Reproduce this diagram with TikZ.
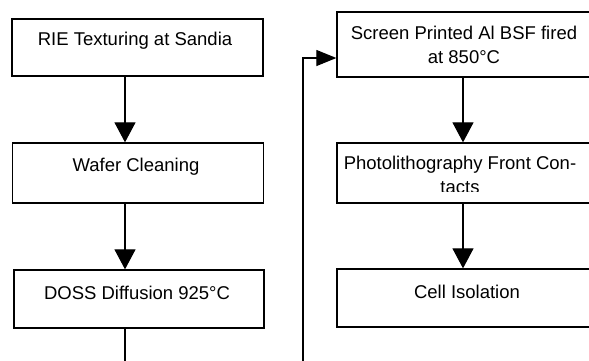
\documentclass[tikz,border=0pt]{standalone}
\usepackage{fontspec}
\setmainfont{Liberation Sans}
\usetikzlibrary{arrows.meta}
\begin{document}
\begin{tikzpicture}[x=1pt,y=-1pt,
  box/.style={draw,line width=1.3pt,rectangle,inner sep=0pt},
  txt/.style={font=\fontsize{18.5}{24}\selectfont,inner sep=0pt,align=center},
  arr/.style={line width=1.2pt,-{Triangle[width=21pt,length=20pt]}},
  harr/.style={line width=1.2pt,-{Triangle[width=16pt,length=20pt]}}]
\useasboundingbox (0,0) rectangle (589,360);
\clip (0,0) rectangle (589,360);
% left column
\node[box,minimum width=251pt,minimum height=57pt] (b1) at (137.5,47.5) {};
\node[box,minimum width=251pt,minimum height=60pt] (b2) at (138,173) {};
\node[box,minimum width=250pt,minimum height=58pt] (b3) at (139,299) {};
\node[txt] (t1) at (135,41) {RIE Texturing at Sandia};
\node[txt] (t2) at (136,167) {Wafer Cleaning};
\node[txt] (t3) at (137,293) {DOSS Diffusion 925°C};
\coordinate (ax) at (125,0);
\coordinate (bot) at (125,362);
\draw[arr] (b1.south -| ax) -- (b2.north -| ax);
\draw[arr] (b2.south -| ax) -- (b3.north -| ax);
\draw[line width=1.2pt] (b3.south -| ax) -- (bot);
% right column
\node[box,minimum width=263pt,minimum height=65pt] (r1) at (468.5,44.5) {};
\node[box,minimum width=263pt,minimum height=60pt] (r2) at (468.5,173) {};
\node[box,minimum width=263pt,minimum height=58pt] (r3) at (468.5,298) {};
\node[txt] (s1) at (464,45) {Screen Printed Al BSF fired\\at 850°C};
\begin{scope}
\clip (330,140) rectangle (600,191);
\node[txt] (s2) at (460,175) {Photolithography Front Con-\\tacts};
\end{scope}
\node[txt] (s3) at (467,292) {Cell Isolation};
\coordinate (bx) at (463,0);
\draw[arr] (r1.south -| bx) -- (r2.north -| bx);
\draw[arr] (r2.south -| bx) -- (r3.north -| bx);
% feedback
\coordinate (fb) at (303,362);
\coordinate (fy) at (0,58);
\draw[harr] (fb) -- (fb |- fy) -- (r1.west |- fy);
\end{tikzpicture}
\end{document}
